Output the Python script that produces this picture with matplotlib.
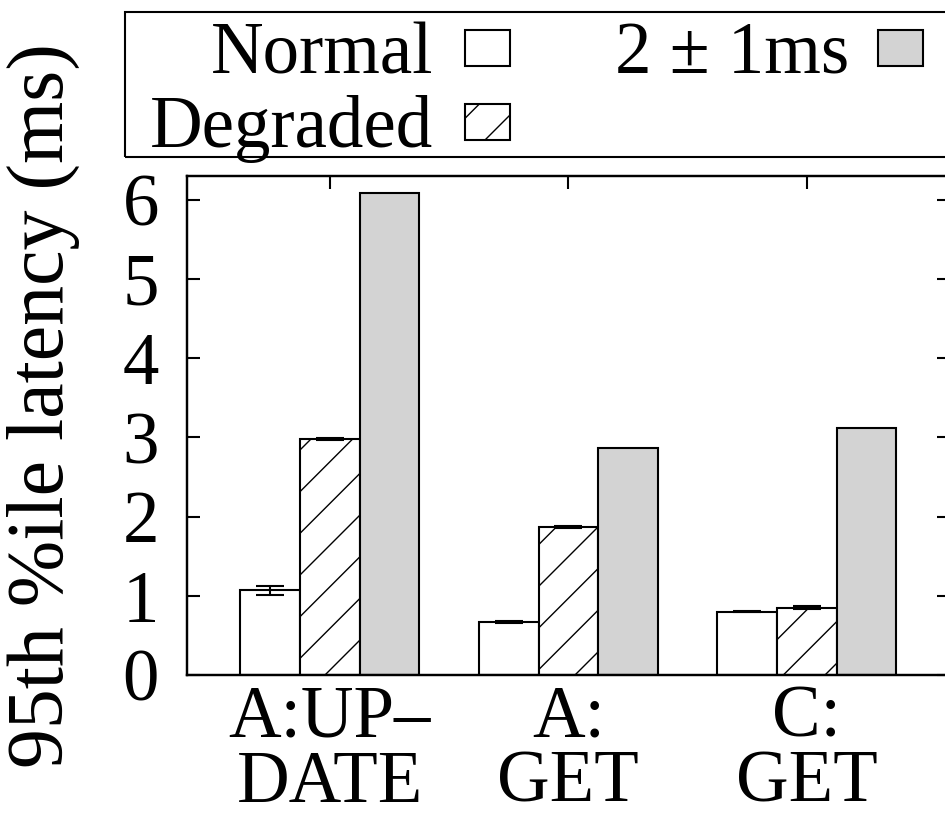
"""95th percentile latency per YCSB operation, three network conditions."""

import matplotlib
matplotlib.use("Agg")
import matplotlib.pyplot as plt
from matplotlib.patches import Rectangle
import numpy as np

plt.rcParams["font.family"] = ["Liberation Serif", "DejaVu Serif"]
plt.rcParams["hatch.linewidth"] = 0.8

# data
categories = ["A:UP\u2013\nDATE", "A:\nGET", "C:\nGET"]
normal = [1.07, 0.67, 0.80]
normal_err = [0.055, 0.01, 0.01]
degraded = [2.98, 1.87, 0.85]
degraded_err = [0.01, 0.01, 0.02]
delayed = [6.08, 2.87, 3.12]
series_labels = ["Normal", "Degraded", "2 \u00b1 1ms"]
yticks = [0, 1, 2, 3, 4, 5, 6]

FS = 42
LW = 1.2
GRAY = "#d3d3d3"

fig = plt.figure(figsize=(7.56, 6.624), dpi=125)
ax = fig.add_axes([0.1976, 0.1848, 0.8077, 0.6027])

x = np.arange(len(categories))
w = 0.25
ax.bar(x - w, normal, w, color="white", edgecolor="black", linewidth=LW, zorder=2)
ax.bar(x, degraded, w, color="white", edgecolor="black", linewidth=LW,
       hatch="/", zorder=2)
ax.bar(x + w, delayed, w, color=GRAY, edgecolor="black", linewidth=LW, zorder=2)
ax.errorbar(x - w, normal, yerr=normal_err, fmt="none", ecolor="black",
            elinewidth=LW, capsize=8, capthick=LW, zorder=3)
ax.errorbar(x, degraded, yerr=degraded_err, fmt="none", ecolor="black",
            elinewidth=LW, capsize=8, capthick=LW, zorder=3)

ax.set_xlim(-0.6, 2.6)
ax.set_ylim(0, 6.3)
ax.set_yticks(yticks)
ax.set_xticks(x)
ax.set_xticklabels(categories, fontsize=FS, linespacing=0.95)
ax.tick_params(axis="y", labelsize=FS, direction="in", length=7.5, width=LW,
               right=True, pad=16)
ax.tick_params(axis="x", direction="in", length=7.5, width=LW, top=True, pad=6)
for sp in ax.spines.values():
    sp.set_linewidth(1.4)
ax.set_ylabel("95th %ile latency (ms)", fontsize=46)
ax.yaxis.set_label_coords(-0.14, 0.54)

# gnuplot-style key above the plot, drawn in figure coordinates
fig.patches.append(Rectangle((0.1323, 0.8104), 0.95, 0.1751, transform=fig.transFigure,
                             facecolor="none", edgecolor="black", linewidth=1.2))
key = [
    (series_labels[0], 0.4582, 0.9118, 0.4921, 0.9203, "white", None),
    (series_labels[1], 0.4582, 0.8225, 0.4921, 0.8309, "white", "/"),
    (series_labels[2], 0.8985, 0.9118, 0.9291, 0.9203, GRAY, None),
]
for label, tx, ty, bx, by, fc, hatch in key:
    fig.text(tx, ty, label, ha="right", va="baseline", fontsize=FS)
    fig.patches.append(Rectangle((bx, by), 0.0476, 0.0435, transform=fig.transFigure,
                                 facecolor=fc, edgecolor="black", linewidth=LW,
                                 hatch=hatch))

fig.savefig("out.png", dpi=125)
